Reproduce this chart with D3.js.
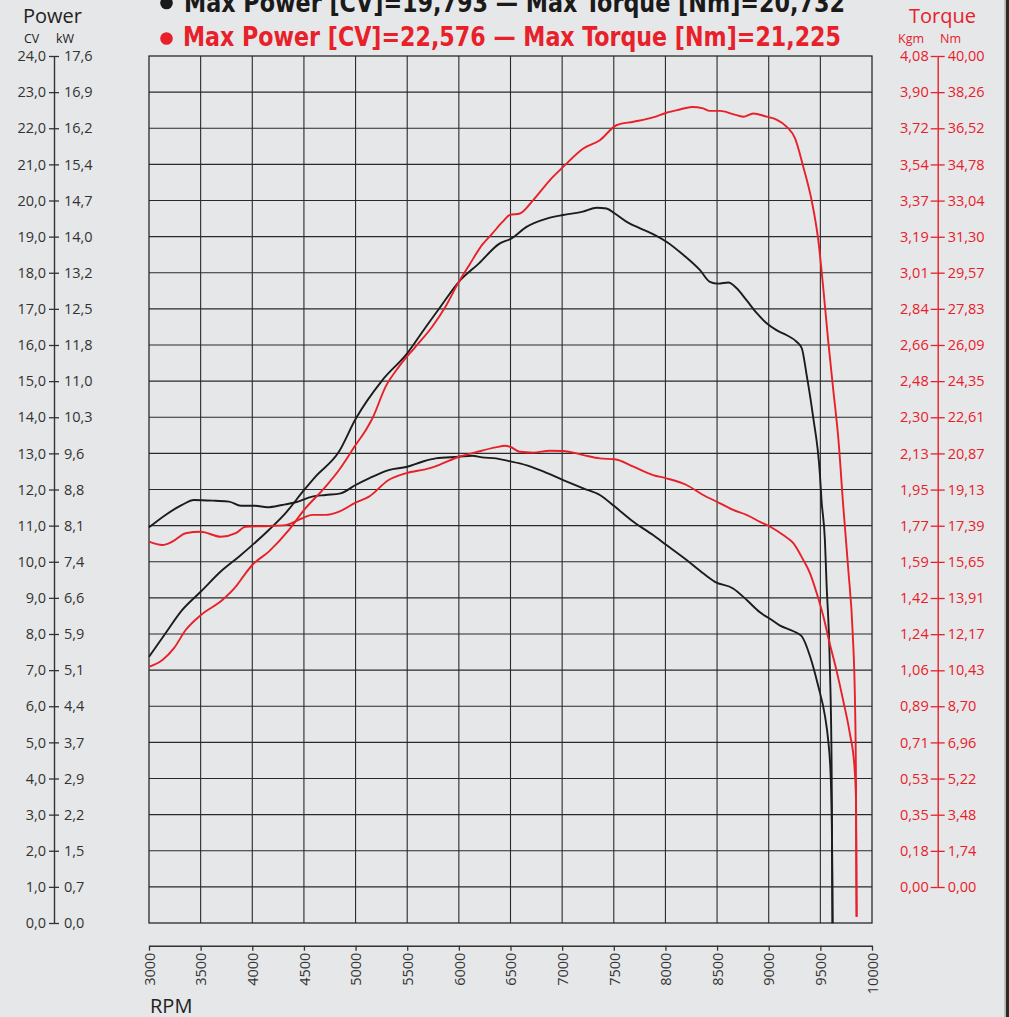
<!DOCTYPE html>
<html><head><meta charset="utf-8">
<script src="https://cdn.jsdelivr.net/npm/d3@7"></script>
<style>
html,body{margin:0;padding:0;background:#e6e7e8;overflow:hidden}
svg{display:block}
</style></head><body><svg id="c" width="1009" height="1017"></svg>
<script>
// ---------- DATA ----------
const rpmTicks = [3000,3500,4000,4500,5000,5500,6000,6500,7000,7500,8000,8500,9000,9500,10000];
const cvLabels = ["0,0","1,0","2,0","3,0","4,0","5,0","6,0","7,0","8,0","9,0","10,0","11,0","12,0","13,0","14,0","15,0","16,0","17,0","18,0","19,0","20,0","21,0","22,0","23,0","24,0"];
const kwLabels = ["0,0","0,7","1,5","2,2","2,9","3,7","4,4","5,1","5,9","6,6","7,4","8,1","8,8","9,6","10,3","11,0","11,8","12,5","13,2","14,0","14,7","15,4","16,2","16,9","17,6"];
const nmLabels = ["0,00","1,74","3,48","5,22","6,96","8,70","10,43","12,17","13,91","15,65","17,39","19,13","20,87","22,61","24,35","26,09","27,83","29,57","31,30","33,04","34,78","36,52","38,26","40,00"];
const kgmLabels = ["0,00","0,18","0,35","0,53","0,71","0,89","1,06","1,24","1,42","1,59","1,77","1,95","2,13","2,30","2,48","2,66","2,84","3,01","3,19","3,37","3,54","3,72","3,90","4,08"];

const titleBlack = "Max Power [CV]=19,793 \u2014 Max Torque [Nm]=20,732";
const titleRed = "Max Power [CV]=22,576 \u2014 Max Torque [Nm]=21,225";

// Black run: power (CV)
const bpRpm = [3000,3160,3320,3500,3710,3870,4000,4160,4320,4500,4610,4840,5000,5260,5500,5680,5810,6000,6195,6390,6510,6655,6850,7010,7200,7335,7430,7510,7625,7755,7880,8010,8175,8335,8430,8510,8610,8690,8785,8885,8980,9075,9175,9270,9320,9365,9430,9495,9511,9544,9560,9592,9609,9618];
const bpCV  = [7.37,8.02,8.66,9.17,9.77,10.14,10.46,10.88,11.34,11.98,12.35,13.05,13.95,15.03,15.77,16.5,17.01,17.75,18.26,18.8,18.95,19.27,19.5,19.6,19.69,19.8,19.78,19.64,19.41,19.23,19.07,18.86,18.49,18.07,17.75,17.7,17.73,17.57,17.24,16.88,16.6,16.41,16.27,16.09,15.91,15.21,14.01,12.45,11.71,10.6,9.4,7.1,4.33,0];
// Black run: torque (Nm)
const btRpm = [3000,3160,3320,3435,3645,3775,3890,4030,4145,4290,4420,4580,4710,4855,5000,5130,5320,5500,5645,5775,6000,6130,6225,6360,6485,6590,6785,7010,7205,7365,7510,7690,7880,8010,8205,8365,8480,8655,8790,8915,9015,9110,9240,9320,9400,9480,9545,9575,9600,9612,9618];
const btNm  = [17.31,17.91,18.39,18.63,18.59,18.55,18.35,18.35,18.28,18.39,18.52,18.79,18.87,18.95,19.35,19.67,20.07,20.23,20.47,20.63,20.71,20.76,20.68,20.63,20.5,20.39,20.07,19.59,19.19,18.87,18.31,17.58,16.94,16.46,15.74,15.1,14.69,14.37,13.8,13.22,12.9,12.58,12.31,12.07,11.11,9.66,8.22,7.1,5.34,2.6,-1.74];
// Red run: power (CV)
const rpRpm = [3000,3130,3240,3355,3500,3710,3840,3935,4000,4160,4355,4500,4710,4840,5000,5100,5160,5290,5420,5580,5740,5870,6000,6100,6225,6325,6420,6495,6590,6720,6880,7010,7205,7365,7530,7690,7880,8010,8140,8255,8365,8430,8530,8655,8755,8850,8980,9075,9175,9255,9335,9415,9480,9530,9575,9625,9675,9720,9770,9813,9835,9845,9851];
const rpCV  = [7.09,7.28,7.6,8.11,8.52,8.94,9.31,9.68,9.91,10.28,10.88,11.43,12.08,12.54,13.23,13.65,13.95,14.84,15.4,15.95,16.5,17.06,17.75,18.21,18.77,19.09,19.4,19.6,19.64,20.01,20.56,20.93,21.44,21.67,22.09,22.18,22.3,22.43,22.52,22.59,22.55,22.48,22.48,22.39,22.32,22.41,22.32,22.24,22.04,21.72,20.93,20.01,18.9,17.52,16.14,14.76,13.38,11.6,9.8,8.02,6.17,3.87,0.17];
// Red run: torque (Nm)
const rtRpm = [3000,3130,3225,3355,3500,3695,3840,3935,4160,4320,4485,4580,4710,4840,5000,5130,5320,5485,5710,5805,6000,6160,6355,6450,6495,6590,6720,6880,7010,7205,7365,7510,7690,7880,8010,8205,8365,8530,8655,8785,8915,9015,9140,9240,9335,9400,9465,9530,9590,9655,9720,9785,9830,9845,9851];
const rtNm  = [16.62,16.46,16.62,17.03,17.1,16.86,17.03,17.34,17.38,17.42,17.75,17.91,17.91,18.07,18.5,18.79,19.59,19.91,20.15,20.31,20.71,20.92,21.16,21.24,21.19,20.95,20.91,21.0,20.99,20.79,20.63,20.59,20.23,19.83,19.67,19.35,18.87,18.47,18.15,17.91,17.58,17.34,16.94,16.54,15.74,15.1,14.14,13.01,11.73,10.45,9.0,7.4,5.79,4.19,-1.43];

// ---------- DRAW ----------
const BLACK = "#1c1c1c", RED = "#e8202a", AXC = "#333";
const svg = d3.select("#c");
const L = 149, R = 872, T = 56, B = 923;
const x = d3.scaleLinear().domain([3000,10000]).range([L,R]);
const yP = d3.scaleLinear().domain([0,24]).range([B,T]);
const yT = d3.scaleLinear().domain([0,40]).range([887,T]);
const num = s => +s.replace(",", ".");
const cvTicks = cvLabels.map(num);
const nmTicks = nmLabels.map(num);

svg.append("rect").attr("width",1009).attr("height",1017).attr("fill","#e6e7e8");
// right edge border
svg.append("rect").attr("x",1004.5).attr("y",0).attr("width",1.2).attr("height",1017).attr("fill","#a0a0a0");
svg.append("rect").attr("x",1006).attr("y",0).attr("width",3).attr("height",1017).attr("fill","#2e2922");

// grid
const g = svg.append("g");
g.selectAll("line.v").data(rpmTicks.slice(1,-1)).join("line")
  .attr("x1",d=>x(d)).attr("x2",d=>x(d)).attr("y1",T).attr("y2",B)
  .attr("stroke","#2a2a2a").attr("stroke-width",1.1);
g.selectAll("line.h").data(cvTicks.slice(1,-1)).join("line")
  .attr("y1",d=>yP(d)).attr("y2",d=>yP(d)).attr("x1",L).attr("x2",R)
  .attr("stroke","#2a2a2a").attr("stroke-width",1.1);
g.append("rect").attr("x",L).attr("y",T).attr("width",R-L).attr("height",B-T)
  .attr("fill","none").attr("stroke","#2a2a2a").attr("stroke-width",1.3);

// curves
const line = d3.line().curve(d3.curveMonotoneX);
function curve(rpms, vals, ys, color){
  svg.append("path")
    .attr("d", line(rpms.map((r,i)=>[x(r), ys(vals[i])])))
    .attr("fill","none").attr("stroke",color).attr("stroke-width",1.9)
    .attr("stroke-linejoin","round");
}
curve(btRpm, btNm, yT, BLACK);
curve(bpRpm, bpCV, yP, BLACK);
curve(rtRpm, rtNm, yT, RED);
curve(rpRpm, rpCV, yP, RED);

// left axis (CV / kW)
const FONT = "'Open Sans', 'Noto Sans', sans-serif";
function styleAxis(sel, color, size){
  sel.selectAll("text").attr("fill",color).style("font-family",FONT).style("font-size",size+"px");
  sel.selectAll("line").attr("stroke",color).attr("stroke-width",1.3);
  sel.selectAll("path.domain").attr("stroke",color).attr("stroke-width",1.4);
}
const axL1 = svg.append("g").attr("transform","translate(54,0)")
  .call(d3.axisLeft(yP).tickValues(cvTicks).tickSizeInner(5).tickSizeOuter(0).tickPadding(3)
        .tickFormat((d,i)=>cvLabels[i]));
styleAxis(axL1, AXC, 14.5);
const axL2 = svg.append("g").attr("transform","translate(54,0)")
  .call(d3.axisRight(yP).tickValues(cvTicks).tickSizeInner(5).tickSizeOuter(0).tickPadding(5)
        .tickFormat((d,i)=>kwLabels[i]));
styleAxis(axL2, AXC, 14.5);
axL2.select("path.domain").remove();

// right axis (Kgm / Nm)
const AXR = 937.7;
const axR1 = svg.append("g").attr("transform",`translate(${AXR},0)`)
  .call(d3.axisLeft(yT).tickValues(nmTicks).tickSizeInner(7).tickSizeOuter(0).tickPadding(2)
        .tickFormat((d,i)=>kgmLabels[i]));
styleAxis(axR1, RED, 14.5);
const axR2 = svg.append("g").attr("transform",`translate(${AXR},0)`)
  .call(d3.axisRight(yT).tickValues(nmTicks).tickSizeInner(7).tickSizeOuter(0).tickPadding(3)
        .tickFormat((d,i)=>nmLabels[i]));
styleAxis(axR2, RED, 14.5);
axR2.select("path.domain").remove();

// bottom axis (RPM)
const axB = svg.append("g").attr("transform","translate(0,945.7)")
  .call(d3.axisBottom(x).tickValues(rpmTicks).tickSizeInner(5).tickSizeOuter(0).tickFormat(d3.format("d")));
styleAxis(axB, AXC, 14.5);
axB.selectAll("text").attr("transform","rotate(-90)").attr("x",-7).attr("y",0)
  .attr("dy","0.36em").style("text-anchor","end");

// axis titles
function txt(s, xx, yy, size, color, anchor){
  svg.append("text").attr("x",xx).attr("y",yy).text(s)
    .style("font-family",FONT).style("font-size",size+"px").attr("fill",color)
    .style("text-anchor",anchor||"start");
}
txt("Power", 23, 23, 20, "#222");
txt("CV", 24, 43, 12.5, "#222");
txt("kW", 56, 43, 12.5, "#222");
txt("Torque", 909, 23, 20, RED);
txt("Kgm", 898, 43, 12.5, RED);
txt("Nm", 940, 43, 12.5, RED);
txt("RPM", 150, 1013, 20, "#222");

// legend lines
const TF = "'Liberation Sans Narrow','Arial Narrow','DejaVu Sans Condensed','Roboto',sans-serif";
function title(s, yy, color, cy, x0, len){
  svg.append("circle").attr("cx",166.5).attr("cy",cy).attr("r",6.3).attr("fill",color);
  svg.append("text").attr("x",x0).attr("y",yy).text(s)
    .attr("textLength",len).attr("lengthAdjust","spacingAndGlyphs")
    .style("font-family",TF).style("font-weight","bold").style("font-size","26px").attr("fill",color);
}
title(titleBlack, 12, "#1a1a1a", 3, 184, 661);
title(titleRed, 46, RED, 38.5, 183, 658);
</script></body></html>
